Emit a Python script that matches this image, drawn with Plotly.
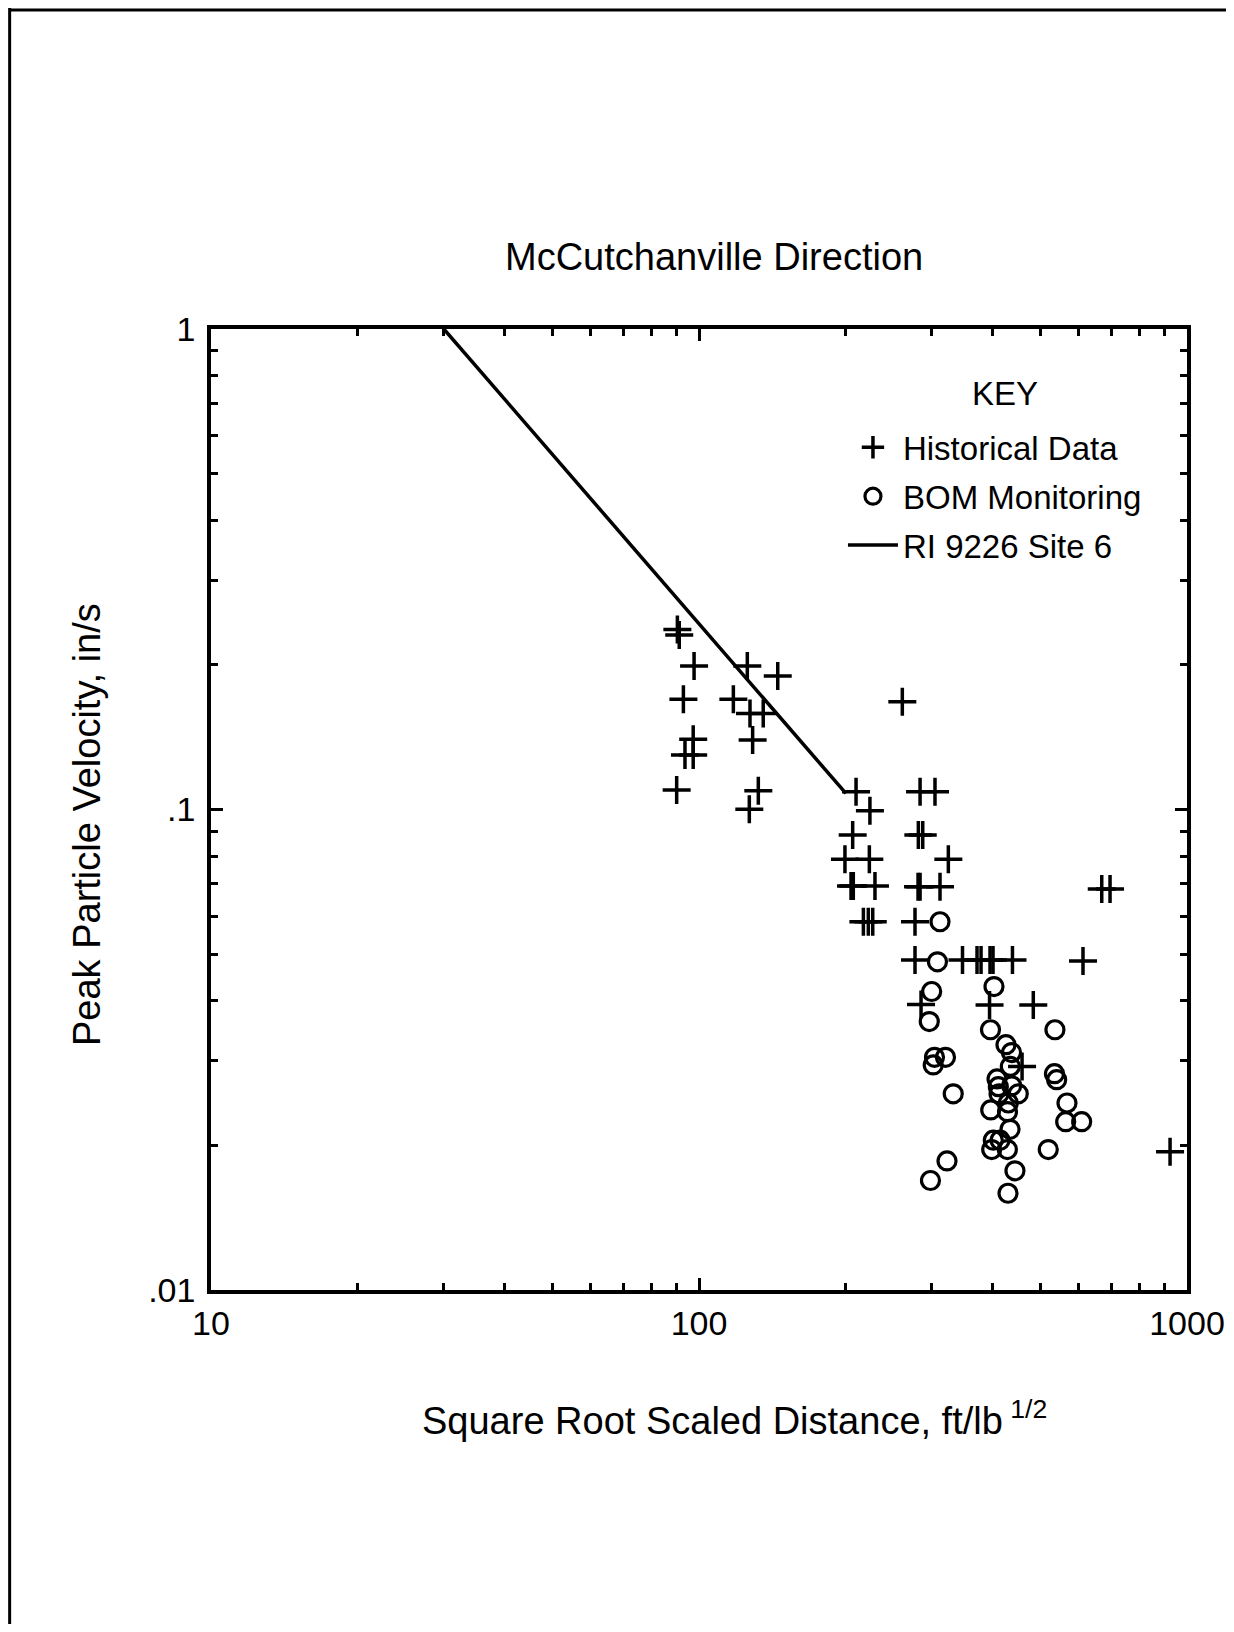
import plotly.graph_objects as go

# ---------------- data ----------------
hist_x = [90.3, 91.1, 97.7, 92.9, 97.3, 93.6, 97.3, 90.0, 125.6, 145.0, 117.6, 127.2, 135.4,
          128.8, 132.3, 126.8, 261.0, 209.8, 224.0, 283.8, 304.5, 206.5, 281.5, 287.4,
          199.1, 223.4, 324.3, 204.9, 207.1, 229.4, 281.1, 283.8, 311.8, 217.2, 222.3,
          227.0, 277.1, 277.1, 346.7, 371.3, 378.4, 394.8, 400.4, 438.9, 612.2, 668.8,
          695.5, 285.1, 393.9, 484.2, 459.2, 923.2]
hist_y = [0.237, 0.2307, 0.199, 0.1696, 0.140, 0.1299, 0.1299, 0.1098, 0.199, 0.1896, 0.1696,
          0.1585, 0.1585, 0.1395, 0.1094, 0.1001, 0.1676, 0.1089, 0.0994, 0.1089, 0.1089,
          0.0885, 0.0885, 0.0885, 0.0788, 0.0788, 0.0788, 0.0693, 0.0693, 0.0693, 0.0691,
          0.0691, 0.0691, 0.0584, 0.0584, 0.0584, 0.0584, 0.0486, 0.0486, 0.0486, 0.0486,
          0.0486, 0.0486, 0.0486, 0.0484, 0.0683, 0.0683, 0.0393, 0.0392, 0.0392, 0.0292,
          0.0194]

bom_x = [311.8, 308.1, 299.8, 402.3, 296.4, 395.7, 536.3, 425.7, 437.0, 303.8, 320.0, 302.0,
         434.5, 535.1, 540.7, 408.1, 331.9, 410.6, 437.3, 412.0, 451.1, 430.4, 396.1, 567.7,
         428.8, 564.2, 608.4, 433.9, 401.0, 414.0, 398.0, 428.5, 519.7, 322.3, 444.1, 298.1,
         429.8]
bom_y = [0.0584, 0.0482, 0.0418, 0.0428, 0.0362, 0.0348, 0.0348, 0.0324, 0.0312, 0.0305,
         0.0305, 0.0294, 0.0292, 0.0282, 0.0274, 0.0275, 0.0256, 0.0265, 0.0266, 0.0256,
         0.0256, 0.0245, 0.0237, 0.0245, 0.0235, 0.0224, 0.0224, 0.0216, 0.0205, 0.0205,
         0.0196, 0.0196, 0.0196, 0.01856, 0.0177, 0.0169, 0.0159]

ri_x = [30, 200]
ri_y = [1.0, 0.108]

x_ticks = [10, 100, 1000]
x_ticktext = ["10", "100", "1000"]
x_minor = [20, 30, 40, 50, 60, 70, 80, 90, 200, 300, 400, 500, 600, 700, 800, 900]
y_ticks = [0.01, 0.1, 1]
y_ticktext = [".01", ".1", "1"]
y_minor = [0.02, 0.03, 0.04, 0.05, 0.06, 0.07, 0.08, 0.09,
           0.2, 0.3, 0.4, 0.5, 0.6, 0.7, 0.8, 0.9]

FONT = "Liberation Sans, Arial, Helvetica, sans-serif"

fig = go.Figure()
fig.add_trace(go.Scatter(
    x=hist_x, y=hist_y, mode="markers", name="Historical Data", legendgroup="a",
    marker=dict(symbol="cross-thin-open", size=20, color="black",
                line=dict(color="black", width=3.5))))
fig.add_trace(go.Scatter(
    x=bom_x, y=bom_y, mode="markers", name="BOM Monitoring", legendgroup="b",
    marker=dict(symbol="circle-open", size=18, color="black",
                line=dict(color="black", width=3.2))))
fig.add_trace(go.Scatter(
    x=ri_x, y=ri_y, mode="lines", name="RI 9226 Site 6", legendgroup="c",
    line=dict(color="black", width=3.5)))

axis_common = dict(
    showline=True, linecolor="black", linewidth=3.5, mirror="allticks",
    ticks="inside", ticklen=12, tickwidth=2.5, tickcolor="black",
    showgrid=False, zeroline=False,
    tickfont=dict(family=FONT, size=34, color="black"),
)

fig.update_xaxes(type="log", range=[1, 3], tickmode="array", tickvals=x_ticks,
                 ticktext=x_ticktext, ticklabelstandoff=0,
                 minor=dict(tickmode="array", tickvals=x_minor, ticks="inside",
                            ticklen=7, tickwidth=2.5, tickcolor="black", showgrid=False),
                 **axis_common)
fig.update_yaxes(type="log", range=[-2, 0], tickmode="array", tickvals=y_ticks,
                 ticktext=y_ticktext, ticklabelstandoff=5,
                 minor=dict(tickmode="array", tickvals=y_minor, ticks="inside",
                            ticklen=7, tickwidth=2.5, tickcolor="black", showgrid=False),
                 **axis_common)

fig.update_layout(
    width=1218, height=1616,
    margin=dict(l=203, r=39, t=321, b=334, autoexpand=False),
    paper_bgcolor="white", plot_bgcolor="white",
    font=dict(family=FONT, color="black"),
    showlegend=True,
    legend=dict(
        x=0.6475, y=0.906, xanchor="left", yanchor="top",
        bgcolor="rgba(0,0,0,0)", borderwidth=0,
        font=dict(family=FONT, size=33, color="black"),
        itemwidth=50, tracegroupgap=3,
    ),
    annotations=[
        dict(text="McCutchanville Direction", x=0.5154, y=1.0749, xref="paper", yref="paper",
             xanchor="center", yanchor="middle", showarrow=False,
             font=dict(family=FONT, size=38, color="black")),
        dict(text="KEY", x=0.8135, y=0.9334, xref="paper", yref="paper",
             xanchor="center", yanchor="middle", showarrow=False,
             font=dict(family=FONT, size=33, color="black")),
        dict(text="Square Root Scaled Distance, ft/lb<sup> 1/2</sup>", x=0.2141, y=-0.1332,
             xref="paper", yref="paper", xanchor="left", yanchor="middle", showarrow=False,
             font=dict(family=FONT, size=38, color="black")),
        dict(text="Peak Particle Velocity, in/s", x=-0.127, y=0.4839, xref="paper",
             yref="paper", xanchor="center", yanchor="middle", textangle=-90,
             showarrow=False, font=dict(family=FONT, size=38, color="black")),
    ],
    shapes=[
        dict(type="line", xref="paper", yref="paper", x0=-0.2063, x1=-0.2063, y0=1.34, y1=-0.4,
             line=dict(color="black", width=3)),
        dict(type="line", xref="paper", yref="paper", x0=-0.2063, x1=1.1, y0=1.332, y1=1.332,
             line=dict(color="black", width=3)),
    ],
)

fig.write_html("out.html")
